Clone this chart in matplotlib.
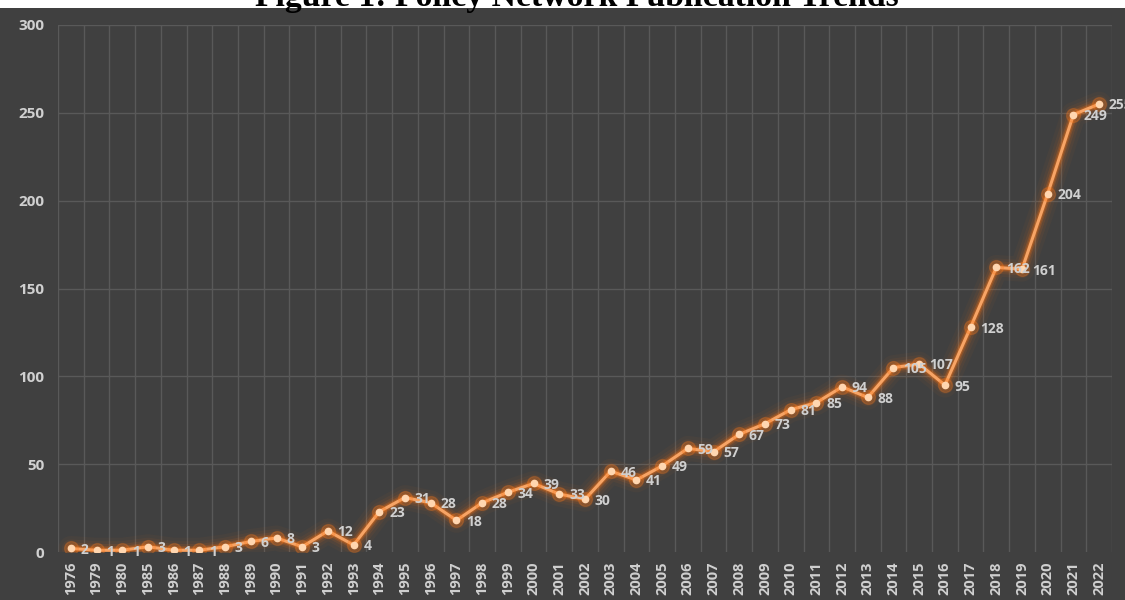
import matplotlib
import matplotlib.pyplot as plt
from matplotlib.patches import Rectangle

matplotlib.use("agg")

# publication counts per year
years = ["1976", "1979", "1980", "1985", "1986", "1987", "1988", "1989", "1990",
         "1991", "1992", "1993", "1994", "1995", "1996", "1997", "1998", "1999",
         "2000", "2001", "2002", "2003", "2004", "2005", "2006", "2007", "2008",
         "2009", "2010", "2011", "2012", "2013", "2014", "2015", "2016", "2017",
         "2018", "2019", "2020", "2021", "2022"]
counts = [2, 1, 1, 3, 1, 1, 3, 6, 8,
          3, 12, 4, 23, 31, 28, 18, 28, 34,
          39, 33, 30, 46, 41, 49, 59, 57, 67,
          73, 81, 85, 94, 88, 105, 107, 95, 128,
          162, 161, 204, 249, 255]
y_ticks = [0, 50, 100, 150, 200, 250, 300]

bg = "#404040"
grid_col = "#595959"
text_col = "#d0d0d0"

plt.rcParams["font.family"] = ["Open Sans", "DejaVu Sans"]

fig = plt.figure(figsize=(11.25, 6), dpi=100, facecolor=bg)
# thin white strip at the top, where the (cut off) caption sits
fig.patches.append(Rectangle((0, 1 - 8 / 600), 1, 8 / 600, transform=fig.transFigure,
                             facecolor="white", edgecolor="none", zorder=0))

ax = fig.add_axes([58 / 1125, 48 / 600, 1054 / 1125, 527 / 600])
ax.set_facecolor(bg)

x = list(range(len(years)))

# glow
for lw, a in [(18, 0.04), (13, 0.06), (9, 0.1), (6, 0.18), (4, 0.3)]:
    ax.plot(x, counts, color="#ff7410", linewidth=lw, alpha=a,
            solid_capstyle="round", solid_joinstyle="round", zorder=3)
ax.plot(x, counts, color="#f7a465", linewidth=2.2, zorder=4)
ax.plot(x, counts, linestyle="none", marker="o", markersize=10,
        color="#ff7a1a", alpha=0.25, zorder=4)
ax.plot(x, counts, linestyle="none", marker="o", markersize=4.5,
        color="#ffd6b0", zorder=5)

for xi, v in zip(x, counts):
    ax.annotate(str(v), (xi, v), xytext=(7, -1), textcoords="offset points",
                ha="left", va="center", fontsize=10, fontweight="bold",
                color=text_col, zorder=6, annotation_clip=False)

ax.set_xlim(-0.5, len(years) - 0.5)
ax.set_ylim(0, 300)
ax.set_xticks(x)
ax.set_xticklabels(years, rotation=90, fontsize=10.5, fontweight="bold",
                   color=text_col)
ax.set_yticks(y_ticks)
ax.set_yticklabels([str(t) for t in y_ticks], fontsize=11, fontweight="bold",
                   color=text_col)
ax.tick_params(length=0, pad=7)
ax.tick_params(axis="y", pad=10)

# gridlines: horizontal at ticks, vertical at category boundaries
for t in y_ticks[1:]:
    ax.axhline(t, color=grid_col, linewidth=1, zorder=1)
for b in range(len(years) + 1):
    ax.axvline(b - 0.5, color=grid_col, linewidth=1, zorder=1)
for s in ax.spines.values():
    s.set_visible(False)

fig.text(0.5124, 1 - 6 / 600, "Figure 1: Policy Network Publication Trends",
         ha="center", va="baseline", fontsize=24.3, fontweight="bold",
         family=["Liberation Serif", "DejaVu Serif"], color="black", zorder=10)

fig.savefig("out.png", dpi=100, facecolor=fig.get_facecolor())
